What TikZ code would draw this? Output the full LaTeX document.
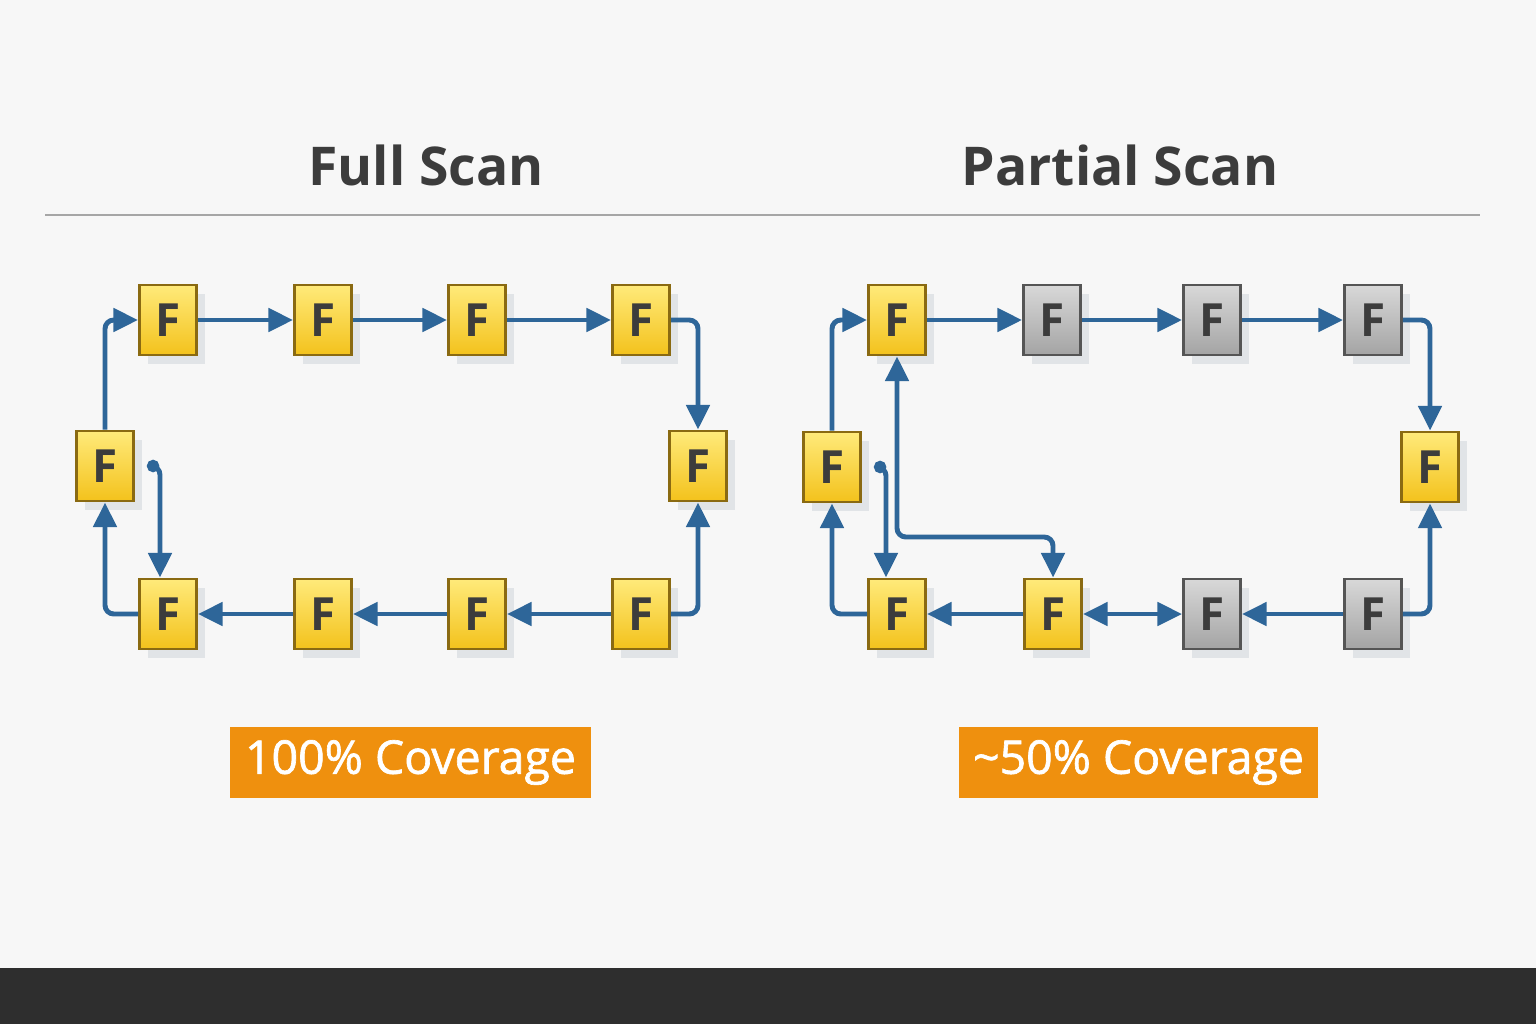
\documentclass[tikz,border=0pt]{standalone}
\usepackage{fontspec}
\setmainfont{Open Sans}
\newfontfamily\badgefont{Open Sans}[FakeBold=1.4]
\usetikzlibrary{arrows.meta,shadows}
\definecolor{flopedge}{HTML}{8A6A12}
\definecolor{floptop}{HTML}{FFEA7A}
\definecolor{flopbot}{HTML}{F3C21C}
\definecolor{offedge}{HTML}{555555}
\definecolor{offtop}{HTML}{D8D8D8}
\definecolor{offbot}{HTML}{A4A4A4}
\definecolor{scanblue}{HTML}{2E6699}
\definecolor{badge}{HTML}{EF900E}
\definecolor{inkgray}{HTML}{3C3C3C}
\tikzset{
  flop/.style={draw=flopedge, line width=0.8pt, top color=floptop, bottom color=flopbot,
    minimum width=0.57cm, minimum height=0.70cm, inner sep=0pt, text=inkgray,
    font=\bfseries\fontsize{13}{13}\selectfont,
    drop shadow={shadow xshift=2.5pt, shadow yshift=-2.5pt, opacity=0.14, fill=scanblue!40!gray}},
  flopoff/.style={flop, draw=offedge, top color=offtop, bottom color=offbot},
  scan/.style={draw=scanblue, line width=1.4pt, rounded corners=2.5pt, -{Triangle[length=7pt,width=6.5pt]}},
  badgebox/.style={fill=badge, text=white, minimum width=3.61cm, minimum height=0.71cm,
    inner sep=0pt, font=\badgefont\fontsize{13.2}{14}\selectfont},
  heading/.style={text=inkgray, font=\bfseries\fontsize{15.2}{16}\selectfont}
}
\begin{document}
\begin{tikzpicture}[x=0.01cm,y=-0.01cm]
\useasboundingbox (0,0) rectangle (1536,1024);
\fill[black!3] (0,0) rectangle (1536,968);
\fill[black!82] (0,968) rectangle (1536,1024);

% headings
\node[heading] (fulltitle) at (426,165) {Full Scan};
\node[heading] (parttitle) at (1120,165) {Partial Scan};
\draw[black!35, line width=0.6pt] (45,215) -- (1480,215);

% full scan chain
\node[flop] (fa1) at (168,320) {F};
\node[flop] (fa2) at (323,320) {F};
\node[flop] (fa3) at (477,320) {F};
\node[flop] (fa4) at (641,320) {F};
\node[flop] (fal) at (105,466) {F};
\node[flop] (far) at (698,466) {F};
\node[flop] (fb1) at (168,614) {F};
\node[flop] (fb2) at (323,614) {F};
\node[flop] (fb3) at (477,614) {F};
\node[flop] (fb4) at (641,614) {F};

\draw[scan] (fal.north) |- (fa1.west);
\draw[scan] (fa1.east) -- (fa2.west);
\draw[scan] (fa2.east) -- (fa3.west);
\draw[scan] (fa3.east) -- (fa4.west);
\draw[scan] (fa4.east) -| (far.north);
\draw[scan] (fb4.east) -| (far.south);
\draw[scan] (fb4.west) -- (fb3.east);
\draw[scan] (fb3.west) -- (fb2.east);
\draw[scan] (fb2.west) -- (fb1.east);
\draw[scan] (fb1.west) -| (fal.south);
\draw[scan, {Circle[length=3.5pt]}-{Triangle[length=7pt,width=6.5pt]}]
  ([xshift=0.12cm]fal.east) -| ([xshift=-0.08cm]fb1.north);

% partial scan chain
\node[flop] (pa1) at (897,320) {F};
\node[flopoff] (pa2) at (1052,320) {F};
\node[flopoff] (pa3) at (1212,320) {F};
\node[flopoff] (pa4) at (1373,320) {F};
\node[flop] (pal) at (832,467) {F};
\node[flop] (par) at (1430,467) {F};
\node[flop] (pb1) at (897,614) {F};
\node[flop] (pb2) at (1053,614) {F};
\node[flopoff] (pb3) at (1212,614) {F};
\node[flopoff] (pb4) at (1373,614) {F};
\coordinate (pjog) at (1053,537);

\draw[scan] (pal.north) |- (pa1.west);
\draw[scan] (pa1.east) -- (pa2.west);
\draw[scan] (pa2.east) -- (pa3.west);
\draw[scan] (pa3.east) -- (pa4.west);
\draw[scan] (pa4.east) -| (par.north);
\draw[scan] (pb4.east) -| (par.south);
\draw[scan] (pb4.west) -- (pb3.east);
\draw[scan, {Triangle[length=7pt,width=6.5pt]}-{Triangle[length=7pt,width=6.5pt]}] (pb3.west) -- (pb2.east);
\draw[scan] (pb2.west) -- (pb1.east);
\draw[scan] (pb1.west) -| (pal.south);
\draw[scan, {Circle[length=3.5pt]}-{Triangle[length=7pt,width=6.5pt]}]
  ([xshift=0.12cm]pal.east) -| ([xshift=-0.11cm]pb1.north);
\draw[scan, {Triangle[length=7pt,width=6.5pt]}-{Triangle[length=7pt,width=6.5pt]}]
  (pa1.south) |- (pjog) -- (pb2.north);

% coverage labels
\node[badgebox] (fullcov) at (410.5,762.5) {100\% Coverage};
\node[badgebox, minimum width=3.59cm] (partcov) at (1138.5,762.5) {\textasciitilde 50\% Coverage};
\end{tikzpicture}
\end{document}
